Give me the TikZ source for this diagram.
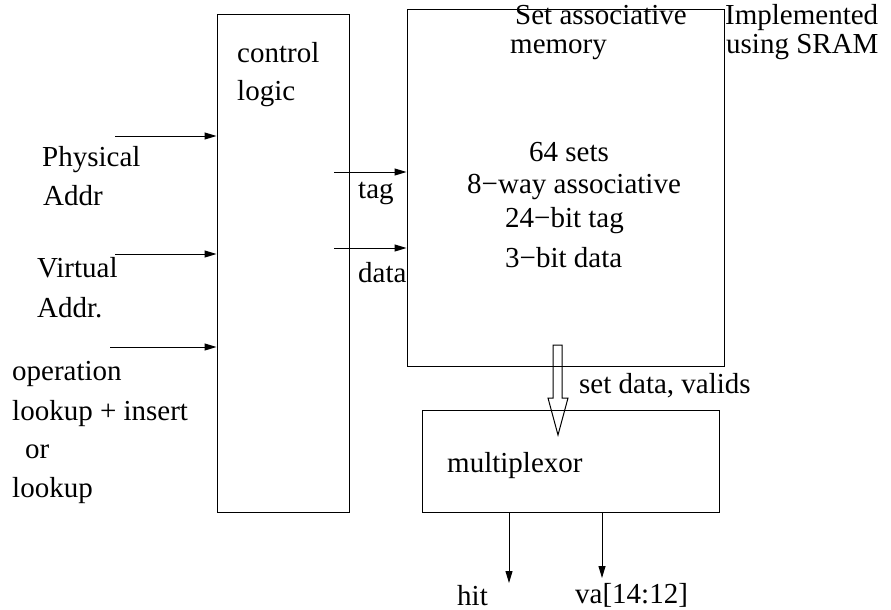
\documentclass[tikz,border=0pt]{standalone}
\usepackage{fontspec}
\setmainfont{Liberation Serif}
\usepackage{tikz}
\usetikzlibrary{positioning,calc,arrows.meta}

\tikzset{
  blk/.style={draw, line width=1pt, inner sep=0pt},
  lbl/.style={anchor=base west, inner sep=0pt, font=\fontsize{29}{35}\selectfont},
  sig/.style={line width=1pt, -{Stealth[length=12pt,width=7pt,inset=0pt]}}
}

\begin{document}
\begin{tikzpicture}[x=1pt, y=-1pt]
    \useasboundingbox (0,0) rectangle (891,610);

      % Blocks
      \node[blk, minimum width=132pt, minimum height=497pt] (ctrl) at (283,263.5) {};
      \node[blk, minimum width=317pt, minimum height=356pt] (mem) at (565.5,188) {};
      \node[blk, minimum width=297pt, minimum height=102pt] (mux) at (570.5,461) {};

      % Block texts
      \node[lbl] (ctrltop) at (237,63) {control};
      \node[lbl] (ctrlbot) at (237,100) {logic};
      \node[lbl] (memtop) at (515,25) {Set associative};
      \node[lbl] (membot) at (510,53) {memory};
      \node[lbl] (impltop) at (725,25) {Implemented};
      \node[lbl] (implbot) at (726,53) {using SRAM};
      \node[lbl] (sets) at (529,161) {64 sets};
      \node[lbl] (ways) at (467,193) {8−way associative};
      \node[lbl] (tagbits) at (505,227) {24−bit tag};
      \node[lbl] (databits) at (505,267) {3−bit data};
      \node[lbl] (muxtxt) at (447,472) {multiplexor};

      % Inputs
      \foreach \n/\x/\y in {phys/115/136, virt/115/254, op/110/347}
      {
        \coordinate (\n) at (\x,\y);
        \draw[sig] (\n) -- (\n -| ctrl.west);
      }
      \node[lbl] (physa) at (42,166) {Physical};
      \node[lbl] (physb) at (43,205) {Addr};
      \node[lbl] (virta) at (37,277) {Virtual};
      \node[lbl] (virtb) at (37,317) {Addr.};
      \node[lbl] (opa) at (12,380) {operation};
      \node[lbl] (opb) at (12,420) {lookup + insert};
      \node[lbl] (opc) at (25,458) {or};
      \node[lbl] (opd) at (12,497) {lookup};

      % Control to memory
      \foreach \n/\y in {tag/172, data/248}
      {
        \coordinate (\n) at (334,\y);
        \draw[sig] (\n) -- (\n -| mem.west);
      }
      \node[lbl] (tagtxt) at (358,198) {tag};
      \node[lbl] (datatxt) at (358,282) {data};

      % Memory to multiplexor
      \draw[line width=1pt] (553,345) -- (553,398) -- (548,398) -- (558,435)
        -- (568,398) -- (562,398) -- (562,345) -- cycle;
      \node[lbl] (settxt) at (579,393) {set data, valids};

      % Outputs
      \coordinate (hit) at (509,583);
      \coordinate (va) at (602,578);
      \draw[sig] (hit |- mux.south) -- (hit);
      \draw[sig] (va |- mux.south) -- (va);
      \node[lbl] (hittxt) at (457,605) {hit};
      \node[lbl] (vatxt) at (575,603) {va[14:12]};
  \end{tikzpicture}
\end{document}
